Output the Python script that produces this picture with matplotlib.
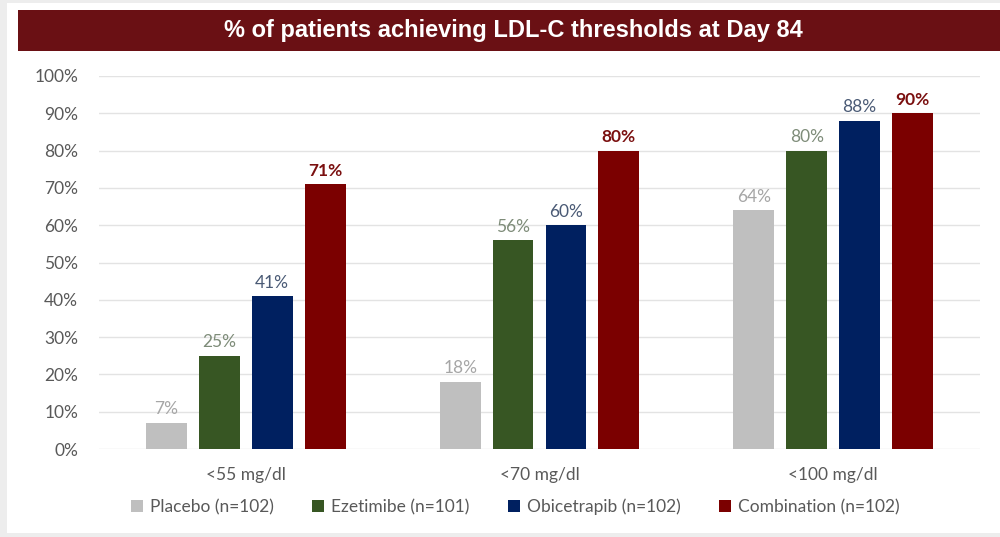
import matplotlib
matplotlib.use("Agg")
import matplotlib.pyplot as plt
import numpy as np
from matplotlib.patches import Rectangle

categories = ["<55 mg/dl", "<70 mg/dl", "<100 mg/dl"]
series_names = ["Placebo (n=102)", "Ezetimibe (n=101)", "Obicetrapib (n=102)", "Combination (n=102)"]
placebo = [7, 18, 64]
ezetimibe = [25, 56, 80]
obicetrapib = [41, 60, 88]
combination = [71, 80, 90]
yticks = [0, 10, 20, 30, 40, 50, 60, 70, 80, 90, 100]
title = "% of patients achieving LDL-C thresholds at Day 84"

series = [placebo, ezetimibe, obicetrapib, combination]
bar_colors = ["#BFBFBF", "#375623", "#002060", "#7B0000"]
label_colors = ["#A6A6A6", "#7E8C79", "#4A5A75", "#7B1010"]
label_weights = ["normal", "normal", "normal", "bold"]

plt.rcParams['font.family'] = ['Lato', 'DejaVu Sans']

fig = plt.figure(figsize=(10, 5.37), dpi=100, facecolor="#EDEDED")
# white panel
fig.patches.append(Rectangle((7/1000, 1-533/537), 993/1000, 530/537,
                             transform=fig.transFigure, facecolor="white",
                             edgecolor="none", zorder=-2))
# title banner
fig.patches.append(Rectangle((18/1000, 1-51/537), 982/1000, 41/537,
                             transform=fig.transFigure, facecolor="#6A1014",
                             edgecolor="none", zorder=-1))
fig.text(0.513, 1-31/537, title, ha="center", va="center", color="white",
         fontsize=17, fontweight="bold", family=["Liberation Sans", "DejaVu Sans"])

ax = fig.add_axes([0.099, 1-449/537, 0.881, (449-76)/537])
ax.set_zorder(2)
ax.set_facecolor("none")
x = np.arange(len(categories))
offsets = [-0.27, -0.09, 0.09, 0.27]
width = 0.139
for s, vals in enumerate(series):
    bars = ax.bar(x + offsets[s], vals, width, color=bar_colors[s],
                  label=series_names[s], zorder=3)
    for b, v in zip(bars, vals):
        ax.annotate(f"{v}%", (b.get_x() + b.get_width()/2, v),
                    xytext=(0, 4), textcoords="offset points",
                    ha="center", va="bottom", fontsize=12.5,
                    color=label_colors[s], fontweight=label_weights[s])

ax.set_xlim(-0.5, 2.5)
ax.set_ylim(0, 100)
ax.set_yticks(yticks)
ax.set_yticklabels([f"{t}%" for t in yticks])
ax.set_xticks(x)
ax.set_xticklabels(categories)
ax.tick_params(axis="both", length=0, labelsize=12.5, labelcolor="#595959")
ax.tick_params(axis="x", pad=13)
ax.tick_params(axis="y", pad=15)
ax.grid(axis="y", color="#E3E3E3", linewidth=1, zorder=0)
for sp in ax.spines.values():
    sp.set_visible(False)

leg = fig.legend(loc="center", bbox_to_anchor=(0.515, 1-507/537), ncol=4,
                 frameon=False, fontsize=12.5, labelcolor="#595959",
                 handlelength=0.7, handleheight=0.7, handletextpad=0.4,
                 columnspacing=2.2)
leg.set_zorder(5)

fig.savefig("out.png", dpi=100, facecolor=fig.get_facecolor())
